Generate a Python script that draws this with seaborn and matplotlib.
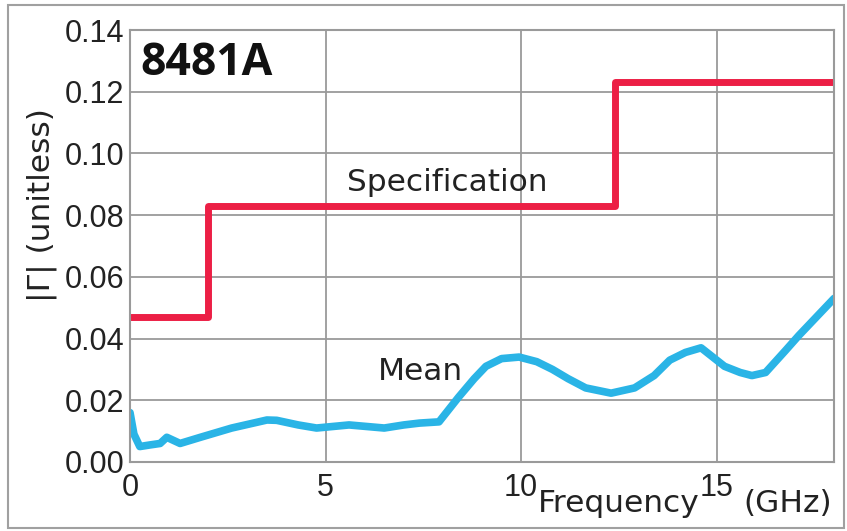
import numpy as np
import pandas as pd
import matplotlib
matplotlib.use("Agg")
import matplotlib.pyplot as plt
import seaborn as sns
from matplotlib.patches import Rectangle

# Specification steps (GHz, |Gamma|)
spec_freq = [0, 2.0, 12.4, 18]
spec_gamma = [0.047, 0.083, 0.123, 0.123]

# Mean measured reflection coefficient
mean_freq = [0.0, 0.1, 0.25, 0.5, 0.77, 0.94, 1.28, 1.8, 2.6, 3.5, 3.75, 4.3, 4.77,
             5.6, 6.5, 7.0, 7.4, 7.9, 8.4, 8.8, 9.1, 9.5, 9.95, 10.4, 10.8, 11.2,
             11.65, 12.3, 12.9, 13.4, 13.8, 14.2, 14.6, 14.9, 15.2, 15.6, 15.9,
             16.25, 16.75, 17.1, 17.4, 17.7, 18.0]
mean_gamma = [0.016, 0.009, 0.005, 0.0055, 0.006, 0.008, 0.006, 0.008, 0.011, 0.0136,
              0.0135, 0.012, 0.011, 0.012, 0.011, 0.012, 0.0126, 0.013, 0.021, 0.027,
              0.031, 0.0335, 0.034, 0.0325, 0.030, 0.027, 0.024, 0.0223, 0.024, 0.028,
              0.033, 0.0355, 0.037, 0.034, 0.031, 0.029, 0.028, 0.029, 0.036, 0.041,
              0.045, 0.049, 0.053]

y_ticks = [0.00, 0.02, 0.04, 0.06, 0.08, 0.10, 0.12, 0.14]
x_ticks = [0, 5, 10, 15]

spec_df = pd.DataFrame({"freq": spec_freq, "gamma": spec_gamma})
mean_df = pd.DataFrame({"freq": mean_freq, "gamma": mean_gamma})

sns.set_style("white")
plt.rcParams["font.family"] = ["Liberation Sans", "DejaVu Sans"]
txt = dict(fontsize=22.5, color="#222222", family=["DejaVu Sans"])

fig = plt.figure(figsize=(8.47, 5.31), dpi=100)
ax = fig.add_axes([0.1535, 0.13, 0.8312, 0.8135])

sns.lineplot(data=spec_df, x="freq", y="gamma", ax=ax, color="#EC1F45",
             linewidth=5, drawstyle="steps-post", sort=False)
sns.lineplot(data=mean_df, x="freq", y="gamma", ax=ax, color="#2AB4E6",
             linewidth=5.5, sort=False)

ax.set_xlim(0, 18)
ax.set_ylim(0, 0.14)
ax.set_xticks(x_ticks)
ax.set_yticks(y_ticks)
ax.set_yticklabels([f"{v:.2f}" for v in y_ticks])
ax.tick_params(labelsize=22, length=0, colors="#222222")
ax.tick_params(axis="y", pad=4)
ax.tick_params(axis="x", pad=8)
ax.grid(True, color="#9a9a9a", linewidth=1.3)
for s in ax.spines.values():
    s.set_color("#9a9a9a")
    s.set_linewidth(1.5)

ax.set_xlabel("")
ax.set_ylabel("|Γ| (unitless)", **txt)
ax.yaxis.set_label_coords(-0.104, 0.595)

ax.text(0.26, 0.1293, "8481A", fontsize=32, fontweight="bold", va="center", ha="left",
        family=["Open Sans", "DejaVu Sans"], color="#111111")
ax.text(8.1, 0.0878, "Specification", ha="center", va="baseline", **txt)
ax.text(7.42, 0.0266, "Mean", ha="center", va="baseline", **txt)
fig.text(0.730, 0.036, "Frequency", ha="center", va="baseline", **txt)
fig.text(0.930, 0.036, "(GHz)", ha="center", va="baseline", **txt)

fig.patches.append(Rectangle((0.009, 0.006), 0.988, 0.985, transform=fig.transFigure,
                             fill=False, edgecolor="#a0a0a0", linewidth=1.5))

fig.savefig("out.png", dpi=100)
